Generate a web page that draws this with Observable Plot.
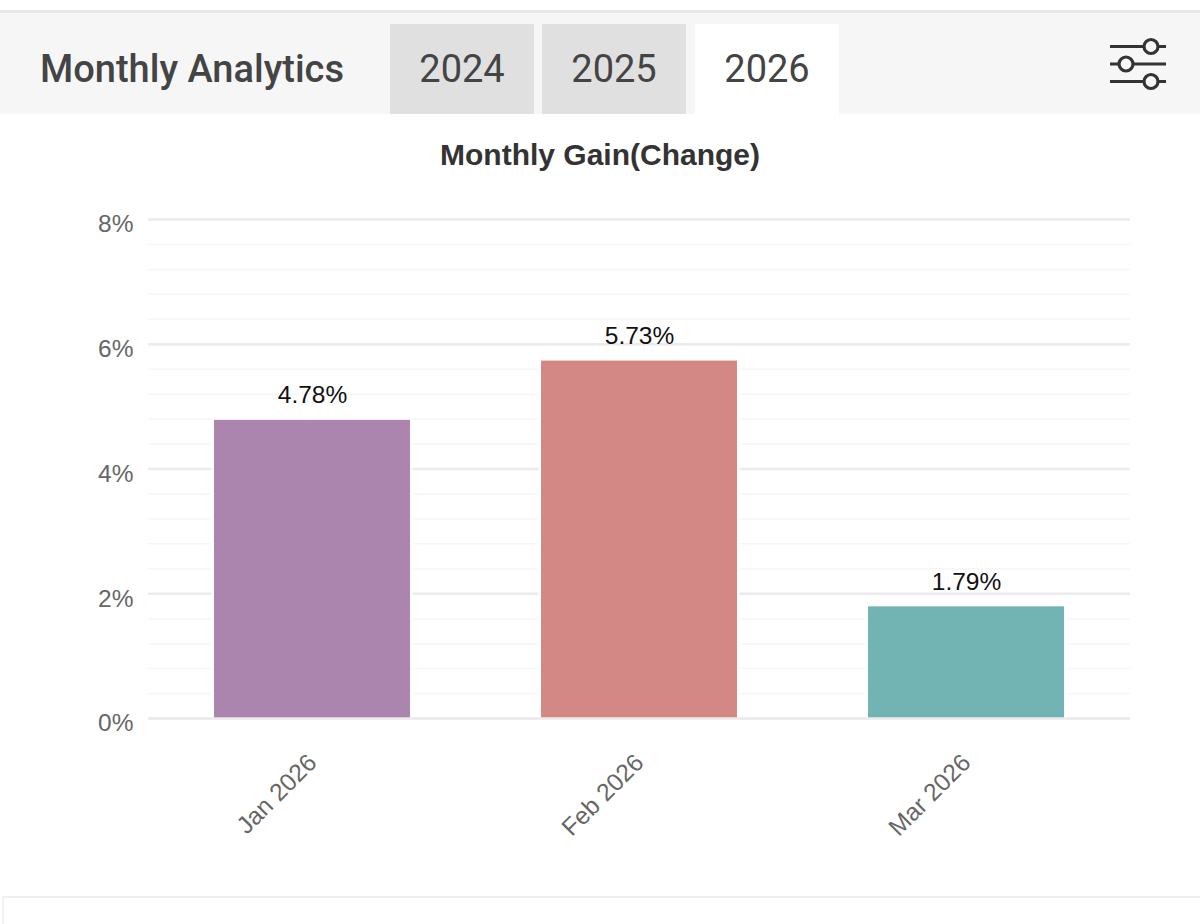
<!DOCTYPE html>
<html>
<head>
<meta charset="utf-8">
<script src="https://cdn.jsdelivr.net/npm/d3@7"></script>
<script src="https://cdn.jsdelivr.net/npm/@observablehq/plot@0.6"></script>
<style>
html,body{margin:0;padding:0;background:#fff;width:1200px;height:924px;overflow:hidden;position:relative}
.abs{position:absolute;box-sizing:border-box}
#topline{left:0;top:10px;width:1200px;height:3px;background:#e8e8e8}
#bar{left:0;top:13px;width:1200px;height:101px;background:#f6f6f6}
#heading{left:40px;top:46px;font:500 38px/46px Roboto,sans-serif;color:#444;white-space:nowrap}
.tab{top:24px;width:144px;height:90px;background:#e0e0e0;color:#444;font:400 38px/90px Roboto,sans-serif;text-align:center}
.tab.on{background:#fff}
#icon{left:1100px;top:30px}
#title{left:0;top:137px;width:1200px;text-align:center;font:700 30px/36px "Liberation Sans",Arial,sans-serif;color:#333}
#chart{left:0;top:114px}
#card{left:2px;top:896px;width:1198px;height:40px;border-top:2px solid #eee;border-left:2px solid #f2f2f2}
</style>
</head>
<body>
<div class="abs" id="topline"></div>
<div class="abs" id="bar"></div>
<div class="abs" id="heading">Monthly Analytics</div>
<div class="abs tab" style="left:390px">2024</div>
<div class="abs tab" style="left:542px">2025</div>
<div class="abs tab on" style="left:695px">2026</div>
<svg class="abs" id="icon" width="76" height="68" viewBox="1100 30 76 68" fill="#f6f6f6" stroke="#333" stroke-width="3.2">
  <path d="M1110 46.5H1166M1110 64H1166M1110 81.5H1166" fill="none"/>
  <circle cx="1151" cy="46.5" r="7"/>
  <circle cx="1126" cy="64" r="7"/>
  <circle cx="1151" cy="81.5" r="7"/>
</svg>
<div class="abs" id="title">Monthly Gain(Change)</div>
<div class="abs" id="chart"></div>
<div class="abs" id="card"></div>
<script>
const months = ["Jan 2026", "Feb 2026", "Mar 2026"];
const gains = [4.78, 5.73, 1.79];
const colors = ["#ac85ae", "#d48886", "#72b3b3"];
const majorTicks = [0, 2, 4, 6, 8];
const minorTicks = [0.4, 0.8, 1.2, 1.6, 2.4, 2.8, 3.2, 3.6, 4.4, 4.8, 5.2, 5.6, 6.4, 6.8, 7.2, 7.6];

const rows = months.map((month, i) => ({month, gain: gains[i], color: colors[i]}));
const font = '"Liberation Sans", Arial, sans-serif';

const chart = Plot.plot({
  width: 1200,
  height: 810,
  marginLeft: 148,
  marginRight: 70,
  marginTop: 105,
  marginBottom: 206,
  style: {fontFamily: font, background: "transparent"},
  x: {domain: months, paddingInner: 0.4, paddingOuter: 0.2, label: null},
  y: {domain: [0, 8], label: null},
  marks: [
    Plot.ruleY(minorTicks, {stroke: "#f6f6f6", strokeWidth: 1.5}),
    Plot.ruleY(majorTicks, {stroke: "#ebebeb", strokeWidth: 2.5}),
    Plot.barY(rows, {x: "month", y: "gain", fill: "color", stroke: "#fff", strokeWidth: 5, paintOrder: "stroke"}),
    Plot.ruleY([0], {stroke: "#ebebeb", strokeWidth: 2.5}),
    Plot.text(rows, {x: "month", y: "gain", text: d => d.gain.toFixed(2) + "%", dy: -25, fontSize: 24.5, fill: "#111"}),
    Plot.axisY({ticks: majorTicks, tickSize: 0, tickPadding: 15, tickFormat: d => d + "%", fontSize: 24.5, fill: "#666", dy: 5}),
    Plot.axisX({tickSize: 0, tickRotate: -45, tickPadding: 40, fontSize: 24.5, fill: "#666", textAnchor: "end"})
  ]
});
document.getElementById("chart").appendChild(chart);
</script>
</body>
</html>
